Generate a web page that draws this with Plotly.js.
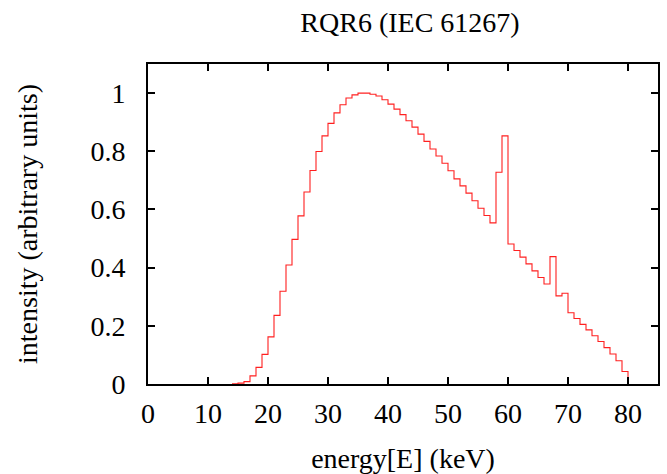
<!DOCTYPE html>
<html>
<head>
<meta charset="utf-8">
<script src="https://cdn.plot.ly/plotly-3.0.1.min.js"></script>
<style>html,body{margin:0;padding:0;background:#fff;}#chart{width:667px;height:474px;}</style>
</head>
<body>
<div id="chart"></div>
<script>
// Bin left edges (keV) and relative intensity per 1 keV bin
const energy = [14,15,16,17,18,19,20,21,22,23,24,25,26,27,28,29,30,31,32,33,34,35,36,37,38,39,40,41,42,43,44,45,46,47,48,49,50,51,52,53,54,55,56,57,58,59,60,61,62,63,64,65,66,67,68,69,70,71,72,73,74,75,76,77,78,79,80];
const intensity = [0.001,0.003,0.008,0.028,0.057,0.102,0.162,0.236,0.319,0.409,0.497,0.578,0.660,0.734,0.799,0.853,0.896,0.932,0.960,0.983,0.994,1.000,1.000,0.996,0.990,0.977,0.962,0.945,0.926,0.905,0.883,0.859,0.834,0.808,0.784,0.759,0.733,0.705,0.681,0.656,0.630,0.604,0.579,0.554,0.728,0.853,0.481,0.459,0.436,0.413,0.389,0.366,0.344,0.438,0.303,0.312,0.245,0.225,0.205,0.186,0.166,0.146,0.125,0.103,0.080,0.043,0];
const xTicks = [0,10,20,30,40,50,60,70,80];
const yTicks = [0,0.2,0.4,0.6,0.8,1];
const yTickText = ["0","0.2","0.4","0.6","0.8","1"];

const family = '"Liberation Serif", "Times New Roman", serif';
const font = {family: family, size: 28, color: '#000'};

const trace = {
  x: energy, y: intensity, type: 'scatter', mode: 'lines',
  line: {shape: 'hv', color: '#ff2020', width: 1.1},
  hoverinfo: 'x+y'
};

const axisCommon = {
  showgrid: false, zeroline: false, showline: true, linecolor: '#000', linewidth: 2,
  mirror: 'ticks', ticks: 'inside', ticklen: 7, tickwidth: 2, tickcolor: '#000',
  tickfont: font, automargin: false
};

const layout = {
  width: 667, height: 474,
  margin: {l: 148, r: 9, t: 64, b: 90},
  paper_bgcolor: '#fff', plot_bgcolor: '#fff',
  font: font,
  showlegend: false,
  title: {text: 'RQR6 (IEC 61267)', font: font, xref: 'paper', x: (410-148)/510, xanchor: 'center', yref: 'container', y: 0.953, yanchor: 'middle'},
  xaxis: Object.assign({}, axisCommon, {range: [0, 85], tickvals: xTicks, ticktext: xTicks.map(String), ticklabelstandoff: 3,
    title: {text: 'energy[E] (keV)', font: font, standoff: 21}}),
  yaxis: Object.assign({}, axisCommon, {range: [0, 1.1], tickvals: yTicks, ticktext: yTickText, ticklabelstandoff: 15,
    title: {text: 'intensity (arbitrary units)', font: font, standoff: 45}})
};

Plotly.newPlot('chart', [trace], layout, {displayModeBar: false, staticPlot: true});
</script>
</body>
</html>
